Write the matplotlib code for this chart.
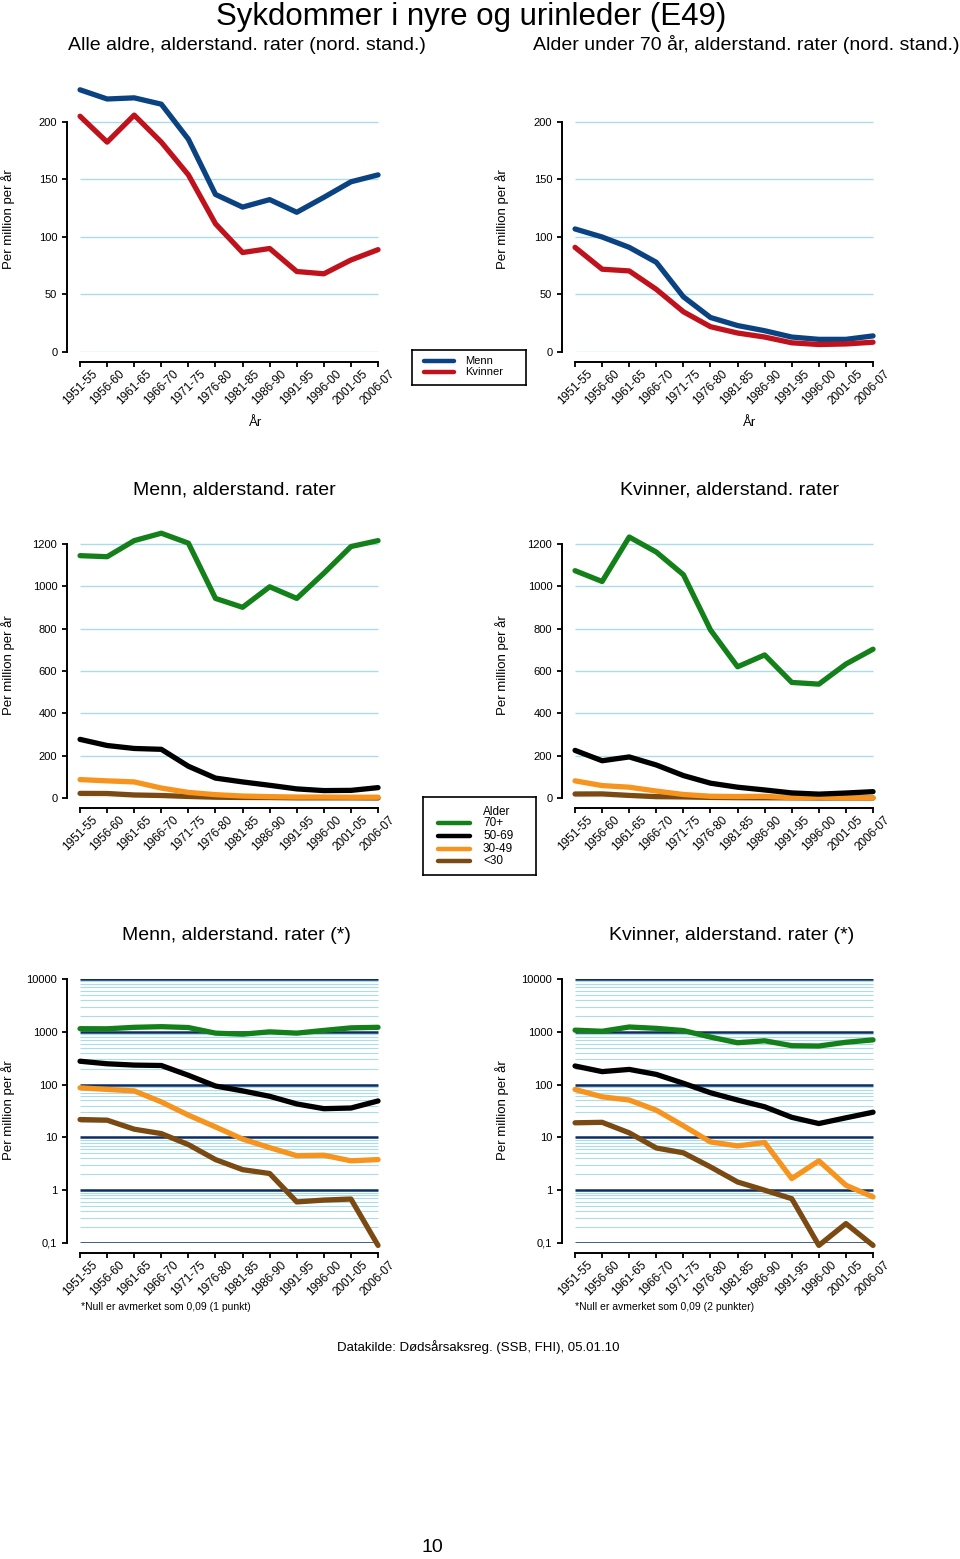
import numpy as np
import matplotlib
matplotlib.use("Agg")
import matplotlib.pyplot as plt
from matplotlib.ticker import NullLocator

plt.rcParams['font.family'] = ['Liberation Sans', 'DejaVu Sans']

periods = ["1951-55", "1956-60", "1961-65", "1966-70", "1971-75", "1976-80",
           "1981-85", "1986-90", "1991-95", "1996-00", "2001-05", "2006-07"]

# alle aldre
alle_menn = [228, 220, 221, 215.5, 185, 137, 126, 132.5, 121.5, 134.5, 148, 154]
alle_kvinner = [205, 182.5, 206, 182.5, 154, 111.5, 86.5, 90, 70, 68, 80, 89]
# under 70 aar
u70_menn = [107, 100, 91, 78, 48, 30, 23, 18.5, 13, 11, 11, 14]
u70_kvinner = [91, 72, 70.5, 54.5, 35, 22, 16.5, 13, 8, 6.5, 7, 8.5]

# aldersgrupper, menn
menn_70 = [1145, 1140, 1216, 1251, 1204, 943, 901, 998, 943, 1062, 1188, 1216]
menn_50 = [277, 248, 234, 230, 150, 94, 76, 60, 43, 35, 36, 49]
menn_30 = [87, 81, 76, 47, 26.4, 15.8, 9.3, 6.4, 4.5, 4.6, 3.6, 3.8]
menn_u30 = [21.8, 21.2, 14.3, 11.8, 7.3, 3.8, 2.45, 2.07, 0.6, 0.65, 0.68, 0.09]

# aldersgrupper, kvinner
kvinner_70 = [1074, 1023, 1233, 1162, 1055, 794, 620, 676, 546, 538, 633, 703]
kvinner_50 = [225, 176, 194, 156, 106, 70, 51, 38, 24, 18.3, 23.5, 30]
kvinner_30 = [81, 58.7, 51, 32.8, 16.6, 8.2, 6.9, 8.0, 1.66, 3.6, 1.24, 0.745]
kvinner_u30 = [18.9, 19.3, 12.2, 6.3, 5.1, 2.76, 1.43, 1.0, 0.69, 0.09, 0.233, 0.09]

kjonn_labels = ["Menn", "Kvinner"]
kjonn_colors = ["#0b4382", "#c0121c"]
alder_labels = ["70+", "50-69", "30-49", "<30"]
alder_colors = ["#13801a", "#000000", "#f7941d", "#7b4a12"]

W, H = 960, 1559
fig = plt.figure(figsize=(W / 100, H / 100), dpi=100)

unit = 27.09
col_left = [66.5, 561.5]
light = "#aadcec"
dark = "#0b2d62"
LW = 3.8


def make_ax(left, top, height):
    width = 11.6 * unit
    return fig.add_axes([left / W, 1 - (top + height) / H, width / W, height / H])


def style(ax, yticks, ylim, log=False):
    ax.set_xlim(-0.5, 11.1)
    if log:
        ax.set_yscale('log')
    ax.set_ylim(*ylim)
    ax.patch.set_visible(False)
    for s in ['top', 'right']:
        ax.spines[s].set_visible(False)
    ax.spines['left'].set_bounds(yticks[0], yticks[-1])
    ax.spines['left'].set_linewidth(1.4)
    ax.spines['bottom'].set_position(('outward', 7.2))
    ax.spines['bottom'].set_bounds(0, 11)
    ax.spines['bottom'].set_linewidth(1.4)
    ax.set_yticks(yticks)
    ax.yaxis.set_minor_locator(NullLocator())
    ax.set_xticks(range(len(periods)))
    ax.set_xticklabels(periods, rotation=45, ha='center', va='top')
    ax.tick_params(axis='both', direction='out', length=3.6, width=1.3,
                   labelsize=8.5, colors='black')
    ax.tick_params(axis='x', pad=0.5)
    ax.tick_params(axis='y', pad=3, labelsize=8)


x = np.arange(len(periods))

# --- rad 1: alle aldre / under 70
row1 = [(alle_menn, alle_kvinner), (u70_menn, u70_kvinner)]
for c, (m, k) in enumerate(row1):
    ax = make_ax(col_left[c], 81.75, 270.25)
    yt = [0, 50, 100, 150, 200]
    style(ax, yt, (0, 235))
    ax.hlines(yt, 0, 11, color=light, lw=1.0, zorder=0)
    for vals, col in zip((m, k), kjonn_colors):
        ax.plot(x, vals, color=col, lw=LW, clip_on=False, solid_capstyle='round',
                solid_joinstyle='round')

# --- rad 2: aldersgrupper lineaer
row2 = [(menn_70, menn_50, menn_30, menn_u30),
        (kvinner_70, kvinner_50, kvinner_30, kvinner_u30)]
for c, series in enumerate(row2):
    ax = make_ax(col_left[c], 529.2, 268.8)
    yt = [0, 200, 400, 600, 800, 1000, 1200]
    style(ax, yt, (0, 1270))
    ax.hlines(yt, 0, 11, color=light, lw=1.0, zorder=0)
    for vals, col in zip(series[::-1], alder_colors[::-1]):
        v = [0 if a < 0.1 else a for a in vals]
        ax.plot(x, v, color=col, lw=LW, clip_on=False, solid_capstyle='round',
                solid_joinstyle='round')

# --- rad 3: aldersgrupper log
for c, series in enumerate(row2):
    ax = make_ax(col_left[c], 979, 264)
    yt = [0.1, 1, 10, 100, 1000, 10000]
    style(ax, yt, (0.1, 10000), log=True)
    ax.set_yticklabels(["0,1", "1", "10", "100", "1000", "10000"])
    minor = [k * 10.0 ** d for d in range(-1, 4) for k in range(2, 10)]
    ax.hlines(minor, 0, 11, color=light, lw=0.8, zorder=0)
    ax.hlines(yt, 0, 11, color=dark, lw=1.8, zorder=1)
    for vals, col in zip(series[::-1], alder_colors[::-1]):
        ax.plot(x, vals, color=col, lw=LW, clip_on=False, solid_capstyle='round',
                solid_joinstyle='round', zorder=3)

# y-etiketter og x-etiketter
for xp in (8, 502):
    for yp in (219, 665, 1110):
        fig.text(xp / W, 1 - yp / H, "Per million per år", rotation=90,
                 ha='center', va='center', fontsize=9.5)
for xp in (256, 750):
    fig.text(xp / W, 1 - 423 / H, "År", ha='center', va='center', fontsize=9.5)

# titler
fig.text(471 / W, 1 - 25 / H, "Sykdommer i nyre og urinleder (E49)",
         ha='center', va='baseline', fontsize=22.5)
fig.text(246.5 / W, 1 - 45 / H, "Alle aldre, alderstand. rater (nord. stand.)",
         ha='center', va='center', fontsize=14)
fig.text(746 / W, 1 - 45 / H, "Alder under 70 år, alderstand. rater (nord. stand.)",
         ha='center', va='center', fontsize=14)
fig.text(234.5 / W, 1 - 490 / H, "Menn, alderstand. rater",
         ha='center', va='center', fontsize=14)
fig.text(730 / W, 1 - 490 / H, "Kvinner, alderstand. rater",
         ha='center', va='center', fontsize=14)
fig.text(236.5 / W, 1 - 936 / H, "Menn, alderstand. rater (*)",
         ha='center', va='center', fontsize=14)
fig.text(732 / W, 1 - 936 / H, "Kvinner, alderstand. rater (*)",
         ha='center', va='center', fontsize=14)
fig.text(81 / W, 1 - 1307 / H, "*Null er avmerket som 0,09 (1 punkt)",
         ha='left', va='center', fontsize=7.5)
fig.text(575 / W, 1 - 1307 / H, "*Null er avmerket som 0,09 (2 punkter)",
         ha='left', va='center', fontsize=7.5)
fig.text(478.5 / W, 1 - 1347 / H, "Datakilde: Dødsårsaksreg. (SSB, FHI), 05.01.10",
         ha='center', va='center', fontsize=9.5)
fig.text(432 / W, 1 - 1548 / H, "10", ha='center', va='center', fontsize=14)


# legender
def legend_box(x0, y0, x1, y1):
    lax = fig.add_axes([x0 / W, 1 - y1 / H, (x1 - x0) / W, (y1 - y0) / H])
    lax.set_xlim(0, x1 - x0)
    lax.set_ylim(y1 - y0, 0)
    lax.set_xticks([])
    lax.set_yticks([])
    for s in lax.spines.values():
        s.set_linewidth(1.2)
    return lax


lax = legend_box(412, 350, 526, 385)
for i, (lab, col) in enumerate(zip(kjonn_labels, kjonn_colors)):
    yy = 11 + 11 * i
    lax.plot([12, 42], [yy, yy], color=col, lw=3.2, solid_capstyle='round')
    lax.text(53, yy, lab, va='center', ha='left', fontsize=8)

lax = legend_box(423, 797, 536, 875)
lax.text(60, 15, "Alder", va='center', ha='left', fontsize=8.5)
for i, (lab, col) in enumerate(zip(alder_labels, alder_colors)):
    yy = 26 + 12.8 * i
    lax.plot([15, 47], [yy, yy], color=col, lw=3.2, solid_capstyle='round')
    lax.text(60, yy, lab, va='center', ha='left', fontsize=8.5)

fig.savefig("out.png", dpi=100)
